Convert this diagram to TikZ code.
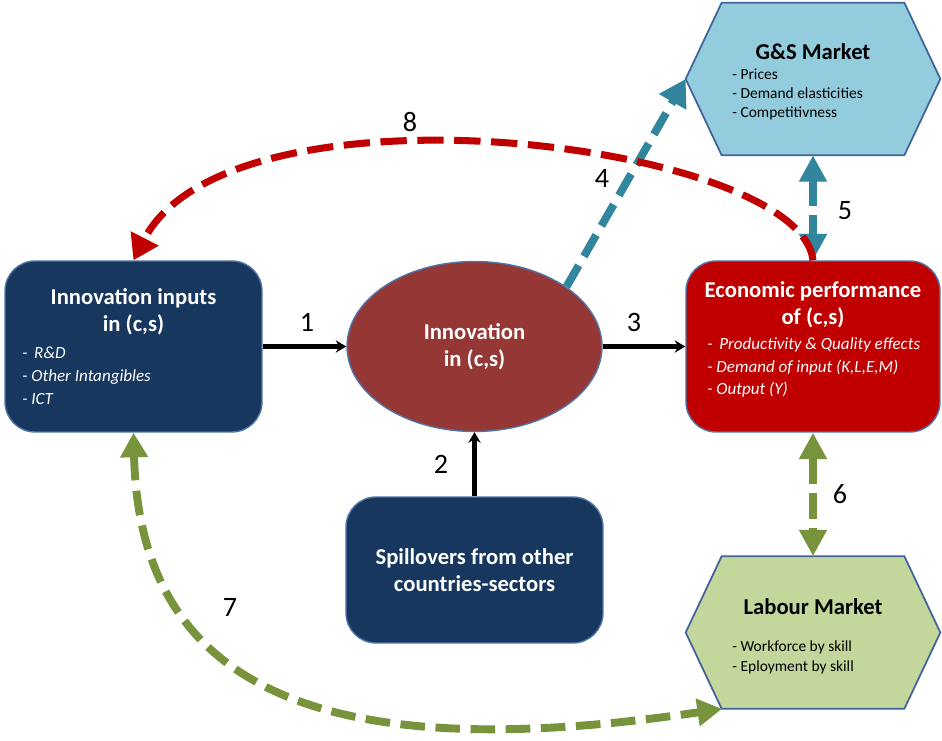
\documentclass[tikz,border=0pt]{standalone}
\usepackage{fontspec}
\setmainfont{Carlito}
\usepackage{tikz}
\usetikzlibrary{positioning}
\usetikzlibrary{arrows.meta,shapes}
\usetikzlibrary{calc}
\definecolor{navybox}{HTML}{17375E}
\definecolor{boxline}{HTML}{4F74A8}
\definecolor{innovred}{HTML}{953735}
\definecolor{perfred}{HTML}{C00000}
\definecolor{gsblue}{HTML}{93CDDD}
\definecolor{labgreen}{HTML}{C3D69B}
\definecolor{hexline}{HTML}{41649A}
\definecolor{tealarrow}{HTML}{31859C}
\definecolor{greenarrow}{HTML}{77933C}
\tikzstyle{roundbox}=[rectangle,rounded corners=0.6cm,draw=boxline,line width=0.8pt,minimum width=5.14cm,inner sep=0pt]
\tikzstyle{hexspot}=[rectangle,minimum width=5.08cm,minimum height=3.04cm,inner sep=0pt]
\tikzstyle{hexbox}=[draw=hexline,line width=1pt,line join=miter]
\tikzstyle{boxtitle}=[align=center,font=\fontsize{12.9}{15.3}\selectfont\bfseries,inner sep=0pt]
\tikzstyle{boxitems}=[align=left,anchor=west,text=white,font=\fontsize{9.7}{13}\selectfont\itshape,inner sep=0pt]
\tikzstyle{hexitems}=[align=left,anchor=west,font=\fontsize{8.8}{10.8}\selectfont,inner sep=0pt]
\tikzstyle{flowedge}=[draw,line width=2.8pt,-{Stealth[length=6pt,width=7pt]}]
\tikzstyle{tealedge}=[draw=tealarrow,line width=4.5pt,dash pattern=on 14pt off 6pt,-{Triangle[length=15pt,width=17pt]}]
\tikzstyle{tealdouble}=[draw=tealarrow,line width=5pt,dash pattern=on 15pt off 5pt,{Triangle[length=15pt,width=15pt]}-{Triangle[length=15pt,width=15pt]}]
\tikzstyle{greendouble}=[draw=greenarrow,line width=5pt,dash pattern=on 15pt off 5pt,{Triangle[length=15pt,width=15pt]}-{Triangle[length=15pt,width=15pt]}]
\tikzstyle{greenedge}=[draw=greenarrow,line width=4.5pt,dash pattern=on 14pt off 6pt,{Triangle[length=14pt,width=15pt]}-{Triangle[length=14pt,width=15pt]}]
\tikzstyle{rededge}=[draw=perfred,line width=4pt,dash pattern=on 15pt off 6pt,-{Triangle[length=14pt,width=17pt]}]
\tikzstyle{weight}=[font=\fontsize{16}{16}\selectfont,inner sep=0pt]

\begin{document}
\begin{tikzpicture}[x=0.02cm, y=0.02cm]
    % White page
    \path[use as bounding box, fill=white] (0,0) rectangle (942,740);

    % First we draw the boxes
    \node[roundbox, fill=navybox, minimum height=3.42cm] (inputs) at (133.5,393.5) {};
    \node[roundbox, fill=perfred, minimum width=5.08cm, minimum height=3.42cm] (perf) at (813,393.5) {};
    \node[roundbox, fill=navybox, minimum height=2.92cm, text=white, boxtitle] (spill) at (474.5,170)
        {Spillovers from other\\countries-sectors};
    \node[ellipse, fill=innovred, draw=boxline, line width=0.8pt, minimum width=5.1cm, minimum height=3.4cm,
        text=white, boxtitle] (innov) at (474.5,393.5) {Innovation\\in (c,s)};

    % The two markets are hexagons
    \node[hexspot] (gs) at (813,661) {};
    \node[hexspot] (lab) at (813,107.5) {};
    \foreach \name/\col in {gs/gsblue, lab/labgreen}
        \filldraw[hexbox, fill=\col] (\name.west) -- ($(\name.north west)+(36,0)$) -- ($(\name.north east)-(36,0)$)
            -- (\name.east) -- ($(\name.south east)-(36,0)$) -- ($(\name.south west)+(36,0)$) -- cycle;

    % Texts in the boxes
    \node[boxtitle, text=white] (inputstitle) at (133.5,428.5) {Innovation inputs\\in (c,s)};
    \node[boxitems] (inputsitems) at (22,364) {-~\,R\&D\\- Other Intangibles\\- ICT};
    \node[boxtitle, text=white] (perftitle) at (813,435.5) {Economic performance\\of (c,s)};
    \node[boxitems] (perfitems) at (707,372.5) {-~\,Productivity \& Quality effects\\- Demand of input (K,L,E,M)\\- Output (Y)};
    \node[boxtitle] (gstitle) at (813,688) {G\&S Market};
    \node[hexitems] (gsitems) at (732,646) {- Prices\\- Demand elasticities\\- Competitivness};
    \node[boxtitle] (labtitle) at (813,133) {Labour Market};
    \node[hexitems, font=\fontsize{8.8}{11.3}\selectfont] (labitems) at (732,83) {- Workforce by skill\\- Eployment by skill};

    % Connect boxes with edges
    \foreach \source/\dest in {inputs/innov, innov/perf, spill/innov}
        \path[flowedge] (\source) -- (\dest);
    \path[tealedge] (innov.33) -- (gs.west);
    \path[tealdouble] (gs.south) -- (perf.north);
    \path[greendouble] (perf.south) -- (lab.north);
    \path[greenedge] (inputs.south) .. controls (140,40) and (340,-25) .. ($(lab.south)-(91,0)$);
    \path[rededge] (perf.north) .. controls (800,598) and (230,668) .. (inputs.north);

    % Numbers of the links
    \foreach \pos/\name/\num in {{(307,418)/n1/1}, {(441,276)/n2/2}, {(634,418)/n3/3}, {(602,562)/n4/4},
        {(845,529)/n5/5}, {(840,246)/n6/6}, {(230,133)/n7/7}, {(410,618)/n8/8}}
        \node[weight] (\name) at \pos {\num};
\end{tikzpicture}
\end{document}
